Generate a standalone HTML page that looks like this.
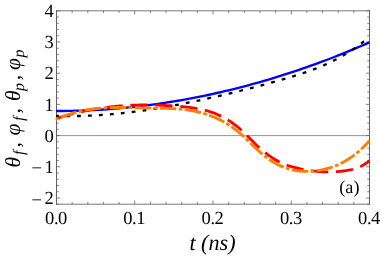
<!DOCTYPE html>
<html><head><meta charset="utf-8"><title>plot</title>
<style>html,body{margin:0;padding:0;background:#fff;overflow:hidden}body{width:381px;height:256px;position:relative;font-family:"Liberation Serif",serif}</style></head>
<body>
<svg width="381" height="256" viewBox="0 0 381 256" style="position:absolute;left:0;top:0;will-change:transform">
<rect width="381" height="256" fill="#fff"/>
<defs><clipPath id="c"><rect x="54.5" y="10.8" width="315.3" height="193.39999999999998"/></clipPath></defs>
<line x1="56.5" x2="369.5" y1="135.6" y2="135.6" stroke="#888" stroke-width="0.9"/>
<path d="M56.5,10.3V204.7M369.5,10.3V204.7" stroke="#505050" stroke-width="0.9" fill="none"/>
<path d="M56.0,10.8H370.0M56.0,204.2H370.0" stroke="#606060" stroke-width="0.85" fill="none"/>
<path d="M56.50,204.2v-3.6M56.50,10.8v3.6M72.15,204.2v-2.3M72.15,10.8v2.3M87.80,204.2v-2.3M87.80,10.8v2.3M103.45,204.2v-2.3M103.45,10.8v2.3M119.10,204.2v-2.3M119.10,10.8v2.3M134.75,204.2v-3.6M134.75,10.8v3.6M150.40,204.2v-2.3M150.40,10.8v2.3M166.05,204.2v-2.3M166.05,10.8v2.3M181.70,204.2v-2.3M181.70,10.8v2.3M197.35,204.2v-2.3M197.35,10.8v2.3M213.00,204.2v-3.6M213.00,10.8v3.6M228.65,204.2v-2.3M228.65,10.8v2.3M244.30,204.2v-2.3M244.30,10.8v2.3M259.95,204.2v-2.3M259.95,10.8v2.3M275.60,204.2v-2.3M275.60,10.8v2.3M291.25,204.2v-3.6M291.25,10.8v3.6M306.90,204.2v-2.3M306.90,10.8v2.3M322.55,204.2v-2.3M322.55,10.8v2.3M338.20,204.2v-2.3M338.20,10.8v2.3M353.85,204.2v-2.3M353.85,10.8v2.3M369.50,204.2v-3.6M369.50,10.8v3.6M56.5,204.20h2.3M369.5,204.20h-2.3M56.5,197.96h3.6M369.5,197.96h-3.6M56.5,191.72h2.3M369.5,191.72h-2.3M56.5,185.48h2.3M369.5,185.48h-2.3M56.5,179.25h2.3M369.5,179.25h-2.3M56.5,173.01h2.3M369.5,173.01h-2.3M56.5,166.77h3.6M369.5,166.77h-3.6M56.5,160.53h2.3M369.5,160.53h-2.3M56.5,154.29h2.3M369.5,154.29h-2.3M56.5,148.05h2.3M369.5,148.05h-2.3M56.5,141.81h2.3M369.5,141.81h-2.3M56.5,135.57h3.6M369.5,135.57h-3.6M56.5,129.34h2.3M369.5,129.34h-2.3M56.5,123.10h2.3M369.5,123.10h-2.3M56.5,116.86h2.3M369.5,116.86h-2.3M56.5,110.62h2.3M369.5,110.62h-2.3M56.5,104.38h3.6M369.5,104.38h-3.6M56.5,98.14h2.3M369.5,98.14h-2.3M56.5,91.90h2.3M369.5,91.90h-2.3M56.5,85.66h2.3M369.5,85.66h-2.3M56.5,79.43h2.3M369.5,79.43h-2.3M56.5,73.19h3.6M369.5,73.19h-3.6M56.5,66.95h2.3M369.5,66.95h-2.3M56.5,60.71h2.3M369.5,60.71h-2.3M56.5,54.47h2.3M369.5,54.47h-2.3M56.5,48.23h2.3M369.5,48.23h-2.3M56.5,41.99h3.6M369.5,41.99h-3.6M56.5,35.75h2.3M369.5,35.75h-2.3M56.5,29.52h2.3M369.5,29.52h-2.3M56.5,23.28h2.3M369.5,23.28h-2.3M56.5,17.04h2.3M369.5,17.04h-2.3M56.5,10.80h3.6M369.5,10.80h-3.6" stroke="#666" stroke-width="0.8" fill="none"/>
<g clip-path="url(#c)" fill="none" stroke-linejoin="round">
<path d="M56.00,111.04 L60.41,111.03 L64.33,111.00 L68.24,110.94 L72.15,110.87 L76.06,110.77 L79.97,110.65 L83.89,110.51 L87.80,110.35 L91.71,110.17 L95.62,109.97 L99.54,109.74 L103.45,109.50 L107.36,109.23 L111.28,108.94 L115.19,108.63 L119.10,108.29 L123.01,107.94 L126.92,107.57 L130.84,107.17 L134.75,106.75 L138.66,106.31 L142.57,105.85 L146.49,105.37 L150.40,104.86 L154.31,104.34 L158.23,103.79 L162.14,103.22 L166.05,102.63 L169.96,102.02 L173.88,101.39 L177.79,100.73 L181.70,100.06 L185.61,99.36 L189.53,98.64 L193.44,97.90 L197.35,97.14 L201.26,96.36 L205.17,95.55 L209.09,94.73 L213.00,93.88 L216.91,93.01 L220.82,92.12 L224.74,91.21 L228.65,90.28 L232.56,89.32 L236.48,88.35 L240.39,87.35 L244.30,86.33 L248.21,85.29 L252.12,84.23 L256.04,83.14 L259.95,82.04 L263.86,80.91 L267.77,79.77 L271.69,78.60 L275.60,77.41 L279.51,76.19 L283.42,74.96 L287.34,73.71 L291.25,72.43 L295.16,71.13 L299.07,69.81 L302.99,68.47 L306.90,67.11 L310.81,65.73 L314.73,64.32 L318.64,62.90 L322.55,61.45 L326.46,59.98 L330.38,58.49 L334.29,56.98 L338.20,55.44 L342.11,53.89 L346.02,52.31 L349.94,50.71 L353.85,49.09 L357.76,47.45 L361.68,45.79 L365.59,44.11 L369.50,42.40" stroke="#0000ff" stroke-width="2.35"/>
<path d="M56.00,115.88 L57.05,115.91 L58.10,115.95 L59.15,115.97 L60.19,116.00 L61.24,116.02 L62.29,116.04 L63.34,116.06 L64.39,116.07 L65.44,116.08 L66.48,116.09 L67.53,116.10 L68.58,116.10 L69.63,116.10 L70.68,116.10 L71.73,116.10 L72.78,116.09 L73.82,116.08 L74.87,116.07 L75.92,116.06 L76.97,116.04 L78.02,116.02 L79.07,116.00 L80.12,115.98 L81.16,115.95 L82.21,115.93 L83.26,115.90 L84.31,115.86 L85.36,115.83 L86.41,115.79 L87.45,115.75 L88.50,115.71 L89.55,115.66 L90.60,115.61 L91.65,115.56 L92.70,115.51 L93.75,115.46 L94.79,115.40 L95.84,115.34 L96.89,115.28 L97.94,115.22 L98.99,115.15 L100.04,115.09 L101.09,115.02 L102.13,114.94 L103.18,114.87 L104.23,114.79 L105.28,114.71 L106.33,114.63 L107.38,114.55 L108.42,114.47 L109.47,114.38 L110.52,114.29 L111.57,114.20 L112.62,114.10 L113.67,114.01 L114.72,113.91 L115.76,113.81 L116.81,113.71 L117.86,113.61 L118.91,113.50 L119.96,113.39 L121.01,113.28 L122.06,113.17 L123.10,113.06 L124.15,112.94 L125.20,112.83 L126.25,112.71 L127.30,112.59 L128.35,112.46 L129.39,112.34 L130.44,112.21 L131.49,112.08 L132.54,111.95 L133.59,111.82 L134.64,111.69 L135.69,111.55 L136.73,111.41 L137.78,111.27 L138.83,111.13 L139.88,110.99 L140.93,110.84 L141.98,110.70 L143.03,110.55 L144.07,110.40 L145.12,110.25 L146.17,110.09 L147.22,109.94 L148.27,109.78 L149.32,109.62 L150.36,109.46 L151.41,109.30 L152.46,109.14 L153.51,108.97 L154.56,108.81 L155.61,108.64 L156.66,108.47 L157.70,108.30 L158.75,108.12 L159.80,107.95 L160.85,107.77 L161.90,107.60 L162.95,107.42 L163.99,107.24 L165.04,107.05 L166.09,106.87 L167.14,106.69 L168.19,106.50 L169.24,106.31 L170.29,106.12 L171.33,105.93 L172.38,105.74 L173.43,105.55 L174.48,105.35 L175.53,105.15 L176.58,104.96 L177.63,104.76 L178.67,104.56 L179.72,104.36 L180.77,104.15 L181.82,103.95 L182.87,103.74 L183.92,103.54 L184.96,103.33 L186.01,103.12 L187.06,102.91 L188.11,102.70 L189.16,102.49 L190.21,102.27 L191.26,102.06 L192.30,101.84 L193.35,101.62 L194.40,101.40 L195.45,101.18 L196.50,100.96 L197.55,100.74 L198.60,100.52 L199.64,100.29 L200.69,100.07 L201.74,99.84 L202.79,99.61 L203.84,99.38 L204.89,99.16 L205.93,98.92 L206.98,98.69 L208.03,98.46 L209.08,98.23 L210.13,97.99 L211.18,97.76 L212.23,97.52 L213.27,97.28 L214.32,97.04 L215.37,96.80 L216.42,96.56 L217.47,96.32 L218.52,96.08 L219.57,95.84 L220.61,95.59 L221.66,95.35 L222.71,95.10 L223.76,94.85 L224.81,94.60 L225.86,94.36 L226.90,94.11 L227.95,93.85 L229.00,93.60 L230.05,93.35 L231.10,93.10 L232.15,92.84 L233.20,92.58 L234.24,92.33 L235.29,92.07 L236.34,91.81 L237.39,91.55 L238.44,91.29 L239.49,91.03 L240.54,90.76 L241.58,90.50 L242.63,90.24 L243.68,89.97 L244.73,89.70 L245.78,89.44 L246.83,89.17 L247.87,88.90 L248.92,88.63 L249.97,88.35 L251.02,88.08 L252.07,87.81 L253.12,87.53 L254.17,87.26 L255.21,86.98 L256.26,86.70 L257.31,86.43 L258.36,86.15 L259.41,85.87 L260.46,85.59 L261.51,85.30 L262.55,85.02 L263.60,84.74 L264.65,84.45 L265.70,84.16 L266.75,83.88 L267.80,83.59 L268.84,83.30 L269.89,83.01 L270.94,82.72 L271.99,82.43 L273.04,82.13 L274.09,81.84 L275.14,81.54 L276.18,81.25 L277.23,80.95 L278.28,80.65 L279.33,80.36 L280.38,80.06 L281.43,79.75 L282.47,79.45 L283.52,79.15 L284.57,78.85 L285.62,78.54 L286.67,78.24 L287.72,77.93 L288.77,77.62 L289.81,77.31 L290.86,76.99 L291.91,76.68 L292.96,76.36 L294.01,76.04 L295.06,75.72 L296.11,75.39 L297.15,75.07 L298.20,74.74 L299.25,74.40 L300.30,74.06 L301.35,73.72 L302.40,73.38 L303.44,73.03 L304.49,72.68 L305.54,72.32 L306.59,71.96 L307.64,71.60 L308.69,71.23 L309.74,70.85 L310.78,70.47 L311.83,70.09 L312.88,69.70 L313.93,69.30 L314.98,68.90 L316.03,68.50 L317.08,68.09 L318.12,67.67 L319.17,67.25 L320.22,66.82 L321.27,66.38 L322.32,65.94 L323.37,65.49 L324.41,65.03 L325.46,64.57 L326.51,64.10 L327.56,63.62 L328.61,63.14 L329.66,62.64 L330.71,62.14 L331.75,61.63 L332.80,61.12 L333.85,60.59 L334.90,60.06 L335.95,59.52 L337.00,58.97 L338.05,58.41 L339.09,57.84 L340.14,57.26 L341.19,56.67 L342.24,56.08 L343.29,55.47 L344.34,54.86 L345.38,54.23 L346.43,53.59 L347.48,52.95 L348.53,52.29 L349.58,51.62 L350.63,50.95 L351.68,50.26 L352.72,49.56 L353.77,48.85 L354.82,48.13 L355.87,47.39 L356.92,46.65 L357.97,45.89 L359.02,45.12 L360.06,44.34 L361.11,43.55 L362.16,42.74 L363.21,41.92 L364.26,41.09 L365.31,40.25 L366.35,39.39 L367.40,38.52 L368.45,37.64 L369.50,36.74" stroke="#000" stroke-width="2.3" stroke-dasharray="3.8 7.170000000000001" stroke-dashoffset="0.9"/>
<path d="M56.90,118.43 L57.95,118.09 L58.99,117.75 L60.04,117.42 L61.08,117.09 L62.13,116.77 L63.17,116.45 L64.22,116.14 L65.26,115.84 L66.31,115.53 L67.35,115.24 L68.40,114.95 L69.45,114.66 L70.49,114.37 L71.54,114.10 L72.58,113.82 L73.63,113.55 L74.67,113.29 L75.72,113.03 L76.76,112.77 L77.81,112.52 L78.86,112.28 L79.90,112.04 L80.95,111.80 L81.99,111.57 L83.04,111.34 L84.08,111.12 L85.13,110.90 L86.17,110.68 L87.22,110.47 L88.26,110.27 L89.31,110.06 L90.36,109.87 L91.40,109.67 L92.45,109.48 L93.49,109.30 L94.54,109.12 L95.58,108.94 L96.63,108.77 L97.67,108.60 L98.72,108.44 L99.76,108.28 L100.81,108.12 L101.86,107.97 L102.90,107.82 L103.95,107.68 L104.99,107.54 L106.04,107.40 L107.08,107.27 L108.13,107.14 L109.17,107.02 L110.22,106.90 L111.27,106.78 L112.31,106.67 L113.36,106.56 L114.40,106.46 L115.45,106.36 L116.49,106.26 L117.54,106.17 L118.58,106.08 L119.63,105.99 L120.67,105.91 L121.72,105.83 L122.77,105.75 L123.81,105.68 L124.86,105.61 L125.90,105.55 L126.95,105.49 L127.99,105.43 L129.04,105.37 L130.08,105.32 L131.13,105.27 L132.17,105.23 L133.22,105.19 L134.27,105.15 L135.31,105.12 L136.36,105.09 L137.40,105.06 L138.45,105.04 L139.49,105.01 L140.54,105.00 L141.58,104.98 L142.63,104.97 L143.68,104.96 L144.72,104.96 L145.77,104.95 L146.81,104.96 L147.86,104.96 L148.90,104.97 L149.95,104.98 L150.99,104.99 L152.04,105.01 L153.08,105.02 L154.13,105.05 L155.18,105.07 L156.22,105.10 L157.27,105.13 L158.31,105.16 L159.36,105.20 L160.40,105.24 L161.45,105.28 L162.49,105.32 L163.54,105.37 L164.58,105.42 L165.63,105.47 L166.68,105.53 L167.72,105.58 L168.77,105.64 L169.81,105.71 L170.86,105.77 L171.90,105.84 L172.95,105.91 L173.99,105.98 L175.04,106.06 L176.09,106.14 L177.13,106.22 L178.18,106.30 L179.22,106.39 L180.27,106.47 L181.31,106.56 L182.36,106.66 L183.40,106.75 L184.45,106.86 L185.49,106.96 L186.54,107.07 L187.59,107.19 L188.63,107.31 L189.68,107.44 L190.72,107.57 L191.77,107.71 L192.81,107.86 L193.86,108.02 L194.90,108.18 L195.95,108.35 L196.99,108.53 L198.04,108.73 L199.09,108.93 L200.13,109.14 L201.18,109.36 L202.22,109.59 L203.27,109.84 L204.31,110.09 L205.36,110.36 L206.40,110.64 L207.45,110.94 L208.50,111.25 L209.54,111.57 L210.59,111.90 L211.63,112.25 L212.68,112.62 L213.72,113.00 L214.77,113.40 L215.81,113.81 L216.86,114.24 L217.90,114.69 L218.95,115.16 L220.00,115.64 L221.04,116.14 L222.09,116.66 L223.13,117.20 L224.18,117.76 L225.22,118.34 L226.27,118.95 L227.31,119.57 L228.36,120.21 L229.41,120.87 L230.45,121.56 L231.50,122.27 L232.54,123.00 L233.59,123.76 L234.63,124.54 L235.68,125.34 L236.72,126.17 L237.77,127.02 L238.81,127.90 L239.86,128.81 L240.91,129.74 L241.95,130.69 L243.00,131.67 L244.04,132.67 L245.09,133.68 L246.13,134.71 L247.18,135.75 L248.22,136.80 L249.27,137.86 L250.31,138.92 L251.36,139.97 L252.41,141.03 L253.45,142.08 L254.50,143.12 L255.54,144.14 L256.59,145.16 L257.63,146.16 L258.68,147.13 L259.72,148.09 L260.77,149.03 L261.82,149.94 L262.86,150.83 L263.91,151.70 L264.95,152.55 L266.00,153.38 L267.04,154.18 L268.09,154.96 L269.13,155.72 L270.18,156.45 L271.22,157.16 L272.27,157.84 L273.32,158.50 L274.36,159.13 L275.41,159.75 L276.45,160.33 L277.50,160.90 L278.54,161.45 L279.59,161.97 L280.63,162.47 L281.68,162.95 L282.72,163.42 L283.77,163.86 L284.82,164.29 L285.86,164.70 L286.91,165.09 L287.95,165.47 L289.00,165.82 L290.04,166.17 L291.09,166.50 L292.13,166.81 L293.18,167.12 L294.23,167.41 L295.27,167.68 L296.32,167.95 L297.36,168.20 L298.41,168.44 L299.45,168.68 L300.50,168.90 L301.54,169.12 L302.59,169.32 L303.63,169.52 L304.68,169.71 L305.73,169.90 L306.77,170.08 L307.82,170.24 L308.86,170.40 L309.91,170.56 L310.95,170.70 L312.00,170.84 L313.04,170.97 L314.09,171.09 L315.13,171.20 L316.18,171.31 L317.23,171.40 L318.27,171.49 L319.32,171.57 L320.36,171.64 L321.41,171.71 L322.45,171.76 L323.50,171.81 L324.54,171.85 L325.59,171.87 L326.64,171.89 L327.68,171.91 L328.73,171.91 L329.77,171.90 L330.82,171.89 L331.86,171.86 L332.91,171.83 L333.95,171.79 L335.00,171.74 L336.04,171.68 L337.09,171.61 L338.14,171.53 L339.18,171.44 L340.23,171.34 L341.27,171.24 L342.32,171.12 L343.36,170.99 L344.41,170.86 L345.45,170.71 L346.50,170.55 L347.54,170.38 L348.59,170.20 L349.64,169.99 L350.68,169.77 L351.73,169.53 L352.77,169.26 L353.82,168.97 L354.86,168.66 L355.91,168.32 L356.95,167.95 L358.00,167.55 L359.05,167.11 L360.09,166.65 L361.14,166.14 L362.18,165.60 L363.23,165.02 L364.27,164.40 L365.32,163.74 L366.36,163.03 L367.41,162.28 L368.45,161.48 L369.50,160.63" stroke="#ff0000" stroke-width="2.8" stroke-dasharray="17.3 7.65"/>
<path d="M56.90,119.02 L57.95,118.54 L58.99,118.08 L60.04,117.63 L61.08,117.19 L62.13,116.76 L63.17,116.35 L64.22,115.94 L65.26,115.55 L66.31,115.17 L67.35,114.80 L68.40,114.45 L69.45,114.10 L70.49,113.77 L71.54,113.45 L72.58,113.13 L73.63,112.83 L74.67,112.54 L75.72,112.26 L76.76,111.99 L77.81,111.73 L78.86,111.48 L79.90,111.24 L80.95,111.00 L81.99,110.78 L83.04,110.57 L84.08,110.36 L85.13,110.17 L86.17,109.98 L87.22,109.80 L88.26,109.63 L89.31,109.47 L90.36,109.31 L91.40,109.16 L92.45,109.02 L93.49,108.89 L94.54,108.77 L95.58,108.65 L96.63,108.54 L97.67,108.43 L98.72,108.33 L99.76,108.24 L100.81,108.16 L101.86,108.08 L102.90,108.00 L103.95,107.94 L104.99,107.87 L106.04,107.82 L107.08,107.76 L108.13,107.72 L109.17,107.68 L110.22,107.64 L111.27,107.61 L112.31,107.58 L113.36,107.55 L114.40,107.53 L115.45,107.52 L116.49,107.50 L117.54,107.50 L118.58,107.49 L119.63,107.49 L120.67,107.49 L121.72,107.49 L122.77,107.50 L123.81,107.50 L124.86,107.52 L125.90,107.53 L126.95,107.54 L127.99,107.56 L129.04,107.58 L130.08,107.60 L131.13,107.62 L132.17,107.64 L133.22,107.67 L134.27,107.69 L135.31,107.72 L136.36,107.74 L137.40,107.77 L138.45,107.79 L139.49,107.82 L140.54,107.84 L141.58,107.87 L142.63,107.89 L143.68,107.92 L144.72,107.94 L145.77,107.96 L146.81,107.98 L147.86,108.00 L148.90,108.02 L149.95,108.04 L150.99,108.06 L152.04,108.07 L153.08,108.09 L154.13,108.10 L155.18,108.12 L156.22,108.13 L157.27,108.15 L158.31,108.17 L159.36,108.18 L160.40,108.20 L161.45,108.23 L162.49,108.25 L163.54,108.27 L164.58,108.30 L165.63,108.33 L166.68,108.37 L167.72,108.40 L168.77,108.44 L169.81,108.49 L170.86,108.53 L171.90,108.59 L172.95,108.64 L173.99,108.70 L175.04,108.77 L176.09,108.84 L177.13,108.92 L178.18,109.00 L179.22,109.09 L180.27,109.18 L181.31,109.28 L182.36,109.39 L183.40,109.50 L184.45,109.63 L185.49,109.75 L186.54,109.89 L187.59,110.04 L188.63,110.19 L189.68,110.35 L190.72,110.52 L191.77,110.70 L192.81,110.89 L193.86,111.09 L194.90,111.30 L195.95,111.51 L196.99,111.74 L198.04,111.98 L199.09,112.23 L200.13,112.49 L201.18,112.76 L202.22,113.05 L203.27,113.34 L204.31,113.65 L205.36,113.97 L206.40,114.30 L207.45,114.65 L208.50,115.00 L209.54,115.37 L210.59,115.76 L211.63,116.16 L212.68,116.57 L213.72,117.00 L214.77,117.44 L215.81,117.90 L216.86,118.37 L217.90,118.86 L218.95,119.36 L220.00,119.88 L221.04,120.42 L222.09,120.97 L223.13,121.54 L224.18,122.13 L225.22,122.73 L226.27,123.35 L227.31,123.99 L228.36,124.65 L229.41,125.33 L230.45,126.02 L231.50,126.74 L232.54,127.47 L233.59,128.22 L234.63,129.00 L235.68,129.79 L236.72,130.61 L237.77,131.44 L238.81,132.30 L239.86,133.17 L240.91,134.07 L241.95,134.99 L243.00,135.94 L244.04,136.90 L245.09,137.88 L246.13,138.87 L247.18,139.88 L248.22,140.89 L249.27,141.92 L250.31,142.94 L251.36,143.97 L252.41,145.00 L253.45,146.03 L254.50,147.05 L255.54,148.06 L256.59,149.06 L257.63,150.04 L258.68,151.01 L259.72,151.97 L260.77,152.90 L261.82,153.80 L262.86,154.69 L263.91,155.54 L264.95,156.37 L266.00,157.18 L267.04,157.96 L268.09,158.71 L269.13,159.44 L270.18,160.15 L271.22,160.83 L272.27,161.49 L273.32,162.12 L274.36,162.73 L275.41,163.32 L276.45,163.88 L277.50,164.43 L278.54,164.94 L279.59,165.44 L280.63,165.92 L281.68,166.37 L282.72,166.80 L283.77,167.21 L284.82,167.60 L285.86,167.97 L286.91,168.32 L287.95,168.65 L289.00,168.96 L290.04,169.25 L291.09,169.52 L292.13,169.77 L293.18,170.00 L294.23,170.21 L295.27,170.40 L296.32,170.58 L297.36,170.74 L298.41,170.88 L299.45,171.00 L300.50,171.10 L301.54,171.19 L302.59,171.26 L303.63,171.32 L304.68,171.35 L305.73,171.38 L306.77,171.38 L307.82,171.37 L308.86,171.35 L309.91,171.31 L310.95,171.26 L312.00,171.19 L313.04,171.10 L314.09,171.01 L315.13,170.89 L316.18,170.77 L317.23,170.63 L318.27,170.48 L319.32,170.31 L320.36,170.14 L321.41,169.94 L322.45,169.74 L323.50,169.52 L324.54,169.28 L325.59,169.03 L326.64,168.76 L327.68,168.48 L328.73,168.18 L329.77,167.86 L330.82,167.53 L331.86,167.18 L332.91,166.81 L333.95,166.43 L335.00,166.03 L336.04,165.61 L337.09,165.17 L338.14,164.71 L339.18,164.23 L340.23,163.74 L341.27,163.22 L342.32,162.68 L343.36,162.12 L344.41,161.55 L345.45,160.95 L346.50,160.33 L347.54,159.68 L348.59,159.02 L349.64,158.33 L350.68,157.62 L351.73,156.89 L352.77,156.13 L353.82,155.36 L354.86,154.55 L355.91,153.73 L356.95,152.87 L358.00,152.00 L359.05,151.10 L360.09,150.17 L361.14,149.22 L362.18,148.24 L363.23,147.23 L364.27,146.20 L365.32,145.14 L366.36,144.06 L367.41,142.95 L368.45,141.80 L369.50,140.64" stroke="#ff8000" stroke-width="2.9" stroke-dasharray="3.7 2.4 16.55 2.4" stroke-dashoffset="1.85"/>
<path d="M55.7,119.3 L57.2,118.65" stroke="#ff8000" stroke-width="2.9"/>
</g>
<g style="font-family:'Liberation Serif',serif;text-rendering:geometricPrecision" font-size="18.5px" letter-spacing="-0.45" fill="#000">
<text x="56.0" y="224.2" text-anchor="middle">0.0</text>
<text x="134.2" y="224.2" text-anchor="middle">0.1</text>
<text x="212.5" y="224.2" text-anchor="middle">0.2</text>
<text x="290.8" y="224.2" text-anchor="middle">0.3</text>
<text x="369.0" y="224.2" text-anchor="middle">0.4</text>
<text x="53.4" y="204.2" text-anchor="end"><tspan dy="1.3">−</tspan><tspan dx="3" dy="-1.3">2</tspan></text>
<text x="53.4" y="173.0" text-anchor="end"><tspan dy="1.3">−</tspan><tspan dx="3" dy="-1.3">1</tspan></text>
<text x="53.4" y="141.8" text-anchor="end">0</text>
<text x="53.4" y="110.6" text-anchor="end">1</text>
<text x="53.4" y="79.4" text-anchor="end">2</text>
<text x="53.4" y="48.2" text-anchor="end">3</text>
<text x="53.4" y="17.0" text-anchor="end">4</text>
</g>
<text x="349.4" y="193" text-anchor="middle" style="font-family:'Liberation Serif',serif;text-rendering:geometricPrecision" font-size="18.2px">(a)</text>
<text x="212.5" y="250.1" text-anchor="middle" style="font-family:'Liberation Serif',serif;text-rendering:geometricPrecision" font-size="22.2px" font-style="italic">t (ns)</text>
<text transform="translate(20.2,167.0) rotate(-90)" style="font-family:'Liberation Serif',serif;text-rendering:geometricPrecision" font-size="21.5px" font-style="italic"><tspan x="-0.5" y="0">θ</tspan><tspan x="12.0" y="3.8" font-size="16px">f</tspan><tspan x="19.4" y="0">,</tspan><tspan x="31.4" y="0">φ</tspan><tspan x="46.0" y="3.8" font-size="16px">f</tspan><tspan x="53.4" y="0">,</tspan><tspan x="65.9" y="0">θ</tspan><tspan x="76.0" y="3.8" font-size="16px">p</tspan><tspan x="86.7" y="0">,</tspan><tspan x="96.9" y="0">φ</tspan><tspan x="109.4" y="3.8" font-size="16px">p</tspan></text>
</svg>
</body></html>
